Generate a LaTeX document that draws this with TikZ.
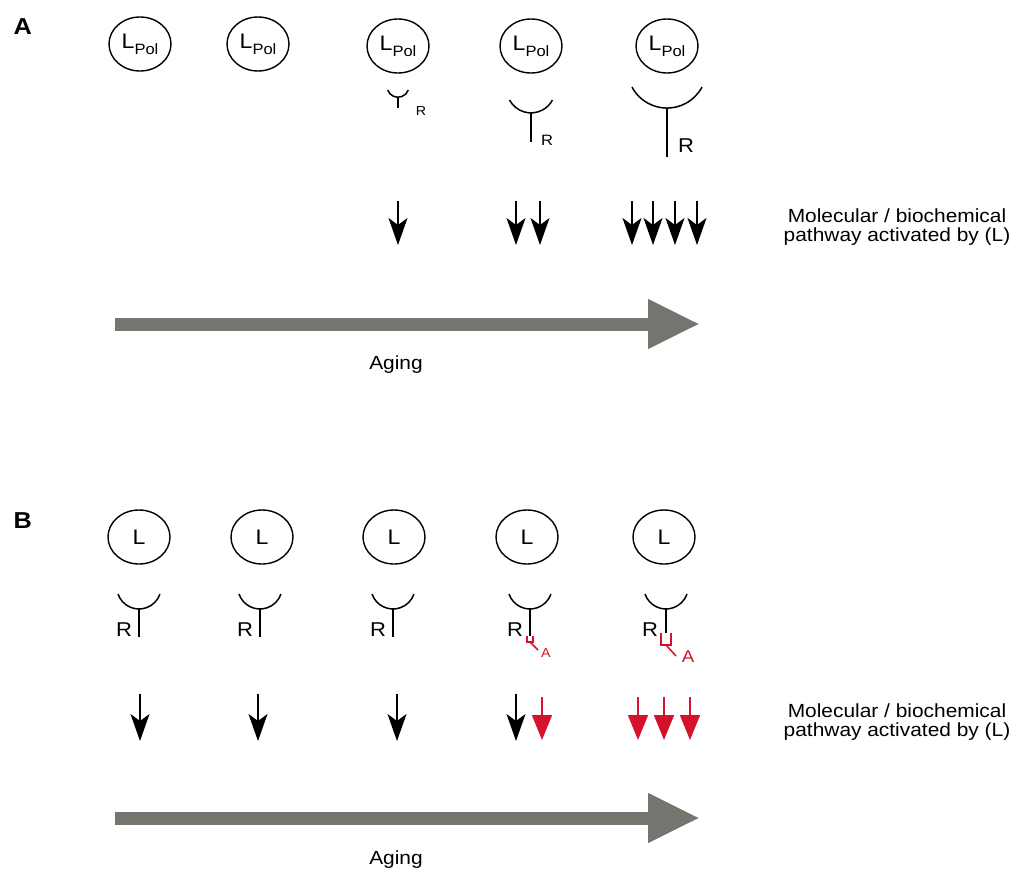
\documentclass[tikz,border=0pt]{standalone}
\usepackage{fontspec}
\setmainfont{Liberation Sans}[FakeStretch=1.1]
\usetikzlibrary{arrows.meta,shapes.geometric}
\definecolor{agegray}{RGB}{118,118,112}
\definecolor{ared}{RGB}{212,18,44}
\newcommand\fsz[1]{\fontsize{#1}{#1}\selectfont}
% receptor: x, cup top y, radius, half angle, stem bottom y
\newcommand\recep[5]{%
  \draw[recline] ({#1-#3*sin(#4)},#2) arc[start angle={90+#4}, end angle={90-#4}, radius=#3];
  \draw[recline] (#1,{#2+#3*(1-cos(#4))}) -- (#1,#5);
}
\newcommand\blarrow[3]{\draw[blarr] (#1,#2) -- (#1,#3);}
\newcommand\rdarrow[3]{\draw[rdarr] (#1,#2) -- (#1,#3);}
\begin{document}
\begin{tikzpicture}[x=1pt,y=-1pt,
  lig/.style={draw, ellipse, line width=1.4pt, minimum width=62pt, minimum height=54pt, inner sep=0pt, font=\fsz{21}},
  recline/.style={line width=1.5pt},
  redline/.style={line width=1.5pt, draw=ared},
  blarr/.style={line width=1.6pt, -{Stealth[length=27pt, width=19pt, inset=7pt]}},
  rdarr/.style={line width=1.6pt, draw=ared, -{Triangle[length=25pt, width=20pt, fill=ared]}},
  agearr/.style={line width=13pt, draw=agegray, -{Triangle[length=52pt, width=46pt, fill=agegray]}},
  plabel/.style={font=\bfseries\fsz{23}, anchor=base west},
  txt/.style={font=\fsz{19}, align=center},
]
\useasboundingbox (0,0) rectangle (1013,871);
\fill[white] (0,0) rectangle (1013,871);

% ---------- Panel A ----------
\node[plabel] (labA) at (10,34) {A};
\foreach \x/\y/\n in {140/44/a1, 258/44/a2, 398/46/a3, 531/46/a4, 667/46/a5}{
  \node[lig] (\n) at (\x,\y) {L\raisebox{-0.3em}{\fsz{15}Pol}};
}
% receptors
\recep{398}{90}{11}{70}{108}
\node[font=\fsz{13}] (rA1) at (421,111) {R};
\recep{531}{100}{24.3}{62}{142}
\node[font=\fsz{15}] (rA2) at (547,140) {R};
\recep{667}{87}{39.7}{62}{157}
\node[font=\fsz{20}] (rA3) at (686,146) {R};
% pathway arrows
\blarrow{398}{201}{245}
\blarrow{516}{201}{245}
\blarrow{540}{201}{245}
\blarrow{632}{201}{245}
\blarrow{653}{201}{245}
\blarrow{675}{201}{245}
\blarrow{697}{201}{245}
\node[txt] (molA) at (897,227) {Molecular / biochemical\\pathway activated by (L)};
% aging arrow
\coordinate (ageAs) at (115,324);
\coordinate (ageAe) at (700,324);
\draw[agearr] (ageAs) -- (ageAe);
\node[font=\fsz{19}] (agingA) at (396,365) {Aging};

% ---------- Panel B ----------
\node[plabel] (labB) at (10,528) {B};
\foreach \x/\n in {139/b1, 262/b2, 394/b3, 527/b4, 664/b5}{
  \node[lig] (\n) at (\x,537) {L};
}
\recep{139}{594}{22.2}{71}{637}
\recep{260}{594}{22.2}{71}{637}
\recep{393}{594}{22.2}{71}{637}
\recep{530}{594}{22.2}{71}{636}
\recep{666}{594}{22.2}{71}{633}
\foreach \x/\n in {124/rB1, 245/rB2, 378/rB3, 515/rB4, 650/rB5}{
  \node[font=\fsz{20}] (\n) at (\x,630) {R};
}
% red A receptors
\draw[redline] (527,636) -- (527,642) -- (533,642) -- (533,636);
\draw[redline] (530,642) -- (538,650);
\node[font=\fsz{13}, text=ared] (aB4) at (546,653) {A};
\draw[redline] (661,633) -- (661,645) -- (671,645) -- (671,633);
\draw[redline] (666,645) -- (676,656);
\node[font=\fsz{17}, text=ared] (aB5) at (688,657) {A};
% pathway arrows
\blarrow{140}{694}{741}
\blarrow{258}{694}{741}
\blarrow{397}{694}{741}
\blarrow{516}{694}{741}
\rdarrow{542}{697}{740}
\rdarrow{638}{697}{740}
\rdarrow{664}{697}{740}
\rdarrow{690}{697}{740}
\node[txt] (molB) at (897,722) {Molecular / biochemical\\pathway activated by (L)};
% aging arrow
\coordinate (ageBs) at (115,818);
\coordinate (ageBe) at (700,818);
\draw[agearr] (ageBs) -- (ageBe);
\node[font=\fsz{19}] (agingB) at (396,860) {Aging};
\end{tikzpicture}
\end{document}
